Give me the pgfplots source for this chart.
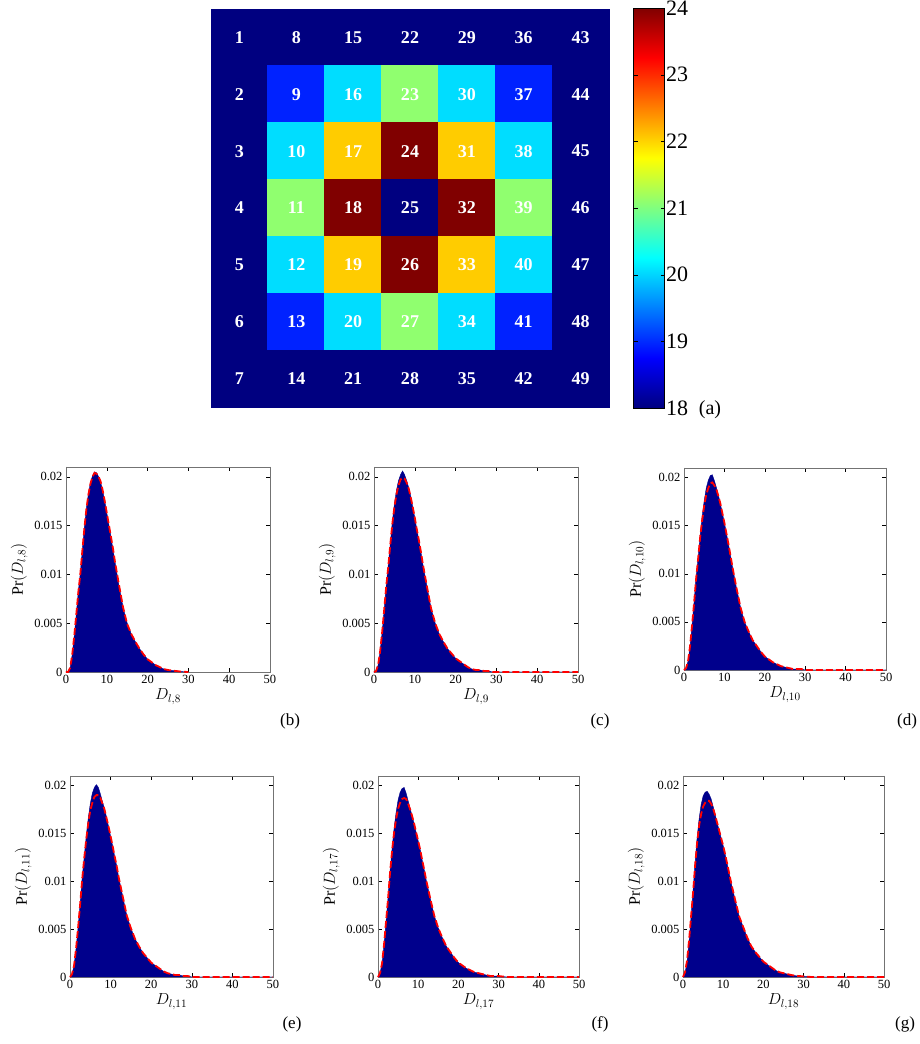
\RequirePackage{fix-cm}
\documentclass[border=0pt]{standalone}
\usepackage{pgfplots}
\pgfplotsset{compat=1.18}
\usepackage{pgfplotstable}
\usepackage{fontspec}
\setmainfont{Liberation Serif}

\definecolor{hist}{RGB}{0,0,140}
\definecolor{fitred}{RGB}{255,0,0}

% heat map: column x, row y (top = 0), value v, cell number n
\pgfplotstableread{
x y v n
0 0 18 1
1 0 18 8
2 0 18 15
3 0 18 22
4 0 18 29
5 0 18 36
6 0 18 43
0 1 18 2
1 1 18.95 9
2 1 20.05 16
3 1 21.1 23
4 1 20.05 30
5 1 18.95 37
6 1 18 44
0 2 18 3
1 2 20.05 10
2 2 22.05 17
3 2 24 24
4 2 22.05 31
5 2 20.05 38
6 2 18 45
0 3 18 4
1 3 21.1 11
2 3 24 18
3 3 18 25
4 3 24 32
5 3 21.1 39
6 3 18 46
0 4 18 5
1 4 20.05 12
2 4 22.05 19
3 4 24 26
4 4 22.05 33
5 4 20.05 40
6 4 18 47
0 5 18 6
1 5 18.95 13
2 5 20.05 20
3 5 21.1 27
4 5 20.05 34
5 5 18.95 41
6 5 18 48
0 6 18 7
1 6 18 14
2 6 18 21
3 6 18 28
4 6 18 35
5 6 18 42
6 6 18 49
}\heat

% histograms: x, histogram h, fitted curve f
\pgfplotstableread{
x h f
0 0 0
0.5 0 0
1 0.0004 0.0004
1.5 0.0017 0.0017
2 0.0036 0.0036
2.5 0.0058 0.0058
3 0.0082 0.0081
3.5 0.0101 0.0100
4 0.0125 0.0124
4.5 0.0148 0.0147
5 0.0168 0.0167
5.5 0.0183 0.0182
6 0.0194 0.0193
6.5 0.0201 0.0200
7 0.0205 0.0204
7.5 0.0204 0.0203
8 0.0200 0.0200
8.5 0.0194 0.0195
9 0.0186 0.0186
9.5 0.0175 0.0175
10 0.0163 0.0163
10.5 0.0151 0.0151
11 0.0139 0.0139
11.5 0.0126 0.0127
12 0.0113 0.0113
13 0.0088 0.0089
14 0.0066 0.0066
15 0.0050 0.0049
16 0.0039 0.0039
17 0.0031 0.0031
18 0.0024 0.0024
19 0.0018 0.0018
20 0.0013 0.0013
21 0.0010 0.0010
22 0.0007 0.0007
23 0.0005 0.0005
24 0.0003 0.0003
25 0.0002 0.0002
26 0.00015 0.00015
27 0.0001 0.0001
28 0.00005 0.00005
29 0.00002 0.00002
30 0 0
}\tb

\pgfplotstableread{
x h f
0 0 0
0.5 0.0001 0.0001
1 0.0007 0.0007
1.5 0.0021 0.0021
2 0.0041 0.0041
2.5 0.0064 0.0064
3 0.0089 0.0088
3.5 0.0110 0.0108
4 0.0132 0.0131
4.5 0.0154 0.0152
5 0.0172 0.0169
5.5 0.0186 0.0182
6 0.0196 0.0191
6.5 0.0202 0.0197
7 0.0206 0.0199
7.5 0.0202 0.0198
8 0.0196 0.0194
8.5 0.0189 0.0188
9 0.0180 0.0179
9.5 0.0169 0.0169
10 0.0158 0.0158
10.5 0.0146 0.0146
11 0.0135 0.0135
11.5 0.0123 0.0123
12 0.0110 0.0110
13 0.0087 0.0087
14 0.0065 0.0065
15 0.0050 0.0050
16 0.0039 0.0039
17 0.0031 0.0031
18 0.0024 0.0024
19 0.0019 0.0019
20 0.0014 0.0014
21 0.0011 0.0011
22 0.0008 0.0008
23 0.0005 0.0005
24 0.0003 0.0003
25 0.0002 0.0002
26 0.0002 0.0002
27 0.0001 0.0001
28 0.0001 0.0001
29 0 0
30 0 0
50 0 0
}\tc

\pgfplotstableread{
x h f
0 0 0
0.5 0.0002 0.0002
1 0.0009 0.0009
1.5 0.0025 0.0025
2 0.0047 0.0047
2.5 0.0071 0.0070
3 0.0097 0.0095
3.5 0.0117 0.0116
4 0.0140 0.0138
4.5 0.0160 0.0156
5 0.0176 0.0171
5.5 0.0189 0.0182
6 0.0197 0.0189
6.5 0.0202 0.0194
7 0.0203 0.0195
7.5 0.0197 0.0192
8 0.0190 0.0188
8.5 0.0182 0.0181
9 0.0173 0.0173
9.5 0.0163 0.0163
10 0.0153 0.0153
10.5 0.0142 0.0142
11 0.0131 0.0131
11.5 0.0119 0.0119
12 0.0107 0.0107
13 0.0085 0.0085
14 0.0065 0.0065
15 0.0050 0.0050
16 0.0040 0.0040
17 0.0031 0.0031
18 0.0025 0.0025
19 0.0019 0.0019
20 0.0014 0.0014
21 0.0011 0.0011
22 0.0008 0.0008
23 0.0006 0.0006
24 0.0004 0.0004
25 0.0003 0.0003
26 0.0002 0.0002
27 0.0001 0.0001
28 0.0001 0.0001
29 0.0001 0.0001
30 0 0
50 0 0
}\td

\pgfplotstableread{
x h f
0 0 0
0.5 0.0003 0.0003
1 0.0012 0.0012
1.5 0.0030 0.0030
2 0.0052 0.0052
2.5 0.0077 0.0076
3 0.0104 0.0102
3.5 0.0125 0.0124
4 0.0147 0.0144
4.5 0.0166 0.0161
5 0.0181 0.0174
5.5 0.0192 0.0182
6 0.0198 0.0188
6.5 0.0201 0.0190
7 0.0198 0.0190
7.5 0.0191 0.0187
8 0.0183 0.0181
8.5 0.0176 0.0175
9 0.0167 0.0166
9.5 0.0157 0.0157
10 0.0147 0.0147
10.5 0.0137 0.0137
11 0.0126 0.0126
11.5 0.0116 0.0116
12 0.0104 0.0104
13 0.0084 0.0084
14 0.0064 0.0064
15 0.0051 0.0051
16 0.0040 0.0040
17 0.0032 0.0032
18 0.0025 0.0025
19 0.0020 0.0020
20 0.0015 0.0015
21 0.0012 0.0012
22 0.0009 0.0009
23 0.0006 0.0006
24 0.0004 0.0004
25 0.0003 0.0003
26 0.0002 0.0002
27 0.0002 0.0002
28 0.0001 0.0001
29 0.0001 0.0001
30 0 0
50 0 0
}\te

\pgfplotstableread{
x h f
0 0 0
0.5 0.0004 0.0004
1 0.0014 0.0014
1.5 0.0034 0.0034
2 0.0058 0.0058
2.5 0.0083 0.0082
3 0.0111 0.0109
3.5 0.0134 0.0132
4 0.0155 0.0151
4.5 0.0172 0.0165
5 0.0185 0.0176
5.5 0.0193 0.0182
6 0.0197 0.0186
6.5 0.0198 0.0187
7 0.0192 0.0186
7.5 0.0184 0.0181
8 0.0176 0.0175
8.5 0.0168 0.0168
9 0.0160 0.0160
9.5 0.0151 0.0151
10 0.0142 0.0142
10.5 0.0133 0.0133
11 0.0122 0.0122
11.5 0.0112 0.0112
12 0.0101 0.0101
13 0.0082 0.0082
14 0.0064 0.0064
15 0.0051 0.0051
16 0.0041 0.0041
17 0.0032 0.0032
18 0.0026 0.0026
19 0.0020 0.0020
20 0.0015 0.0015
21 0.0012 0.0012
22 0.0009 0.0009
23 0.0007 0.0007
24 0.0005 0.0005
25 0.0004 0.0004
26 0.0003 0.0003
27 0.0002 0.0002
28 0.0001 0.0001
29 0.0001 0.0001
30 0.0001 0.0001
32 0 0
50 0 0
}\tf

\pgfplotstableread{
x h f
0 0 0
0.5 0.0004 0.0005
1 0.0016 0.0017
1.5 0.0037 0.0038
2 0.0063 0.0063
2.5 0.0090 0.0088
3 0.0119 0.0116
3.5 0.0145 0.0140
4 0.0165 0.0158
4.5 0.0180 0.0170
5 0.0189 0.0178
5.5 0.0193 0.0182
6 0.0194 0.0184
6.5 0.0191 0.0184
7 0.0186 0.0181
7.5 0.0178 0.0176
8 0.0170 0.0169
8.5 0.0161 0.0161
9 0.0153 0.0153
9.5 0.0145 0.0145
10 0.0137 0.0137
10.5 0.0128 0.0128
11 0.0118 0.0118
11.5 0.0108 0.0108
12 0.0098 0.0098
13 0.0080 0.0080
14 0.0063 0.0063
15 0.0052 0.0052
16 0.0041 0.0041
17 0.0032 0.0032
18 0.0026 0.0026
19 0.0021 0.0021
20 0.0016 0.0016
21 0.0013 0.0013
22 0.0010 0.0010
23 0.0007 0.0007
24 0.0005 0.0005
25 0.0004 0.0004
26 0.0003 0.0003
27 0.0002 0.0002
28 0.00013 0.00013
29 0.0001 0.0001
30 0.00006 0.00006
32 0 0
50 0 0
}\tg

\pgfplotsset{
  histax/.style={
    scale only axis, anchor=south west,
    xmin=0, xmax=50, ymin=0, ymax=0.021,
    xtick={0,10,...,50},
    ytick={0,0.005,0.01,0.015,0.02},
    yticklabels={0,0.005,0.01,0.015,0.02},
    scaled y ticks=false,
    tick align=inside, major tick length=4pt,
    tick style={black, line width=0.5pt},
    axis line style={black!55, line width=0.8pt},
    ticklabel style={font=\fontsize{12.5}{13}\selectfont},
    /pgf/number format/assume math mode=true,
    label style={font=\fontsize{16}{16}\selectfont},
    xlabel style={yshift=2pt},
    clip=false,
  },
  histfill/.style={fill=hist, draw=hist, line width=0.4pt},
  fitline/.style={fitred, line width=1.8pt, dash pattern=on 7pt off 3pt},
}

\begin{document}
\begin{tikzpicture}
\path[use as bounding box] (0pt,0pt) rectangle (920pt,1044pt);

% (a) heat map with colour bar
\begin{axis}[
  at={(211pt,637pt)}, anchor=south west,
  scale only axis, width=398pt, height=398pt,
  xmin=-0.5, xmax=6.5, ymin=-0.5, ymax=6.5, y dir=reverse,
  xtick=\empty, ytick=\empty, axis line style={draw=none},
  colormap/jet, point meta min=18, point meta max=24,
  colorbar, colorbar/width=31pt,
  colorbar style={
    at={(parent axis.south east)}, anchor=south west,
    xshift=16pt, yshift=-1pt,
    scale only axis, height=400pt,
    ytick={18,...,24}, tick align=inside,
    ytick pos=both, yticklabel pos=right,
    major tick length=4pt, tick style={black},
    axis line style={draw=black, line width=0.6pt},
    yticklabel style={font=\fontsize{22}{22}\selectfont, inner sep=1.5pt},
    /pgf/number format/assume math mode=true,
  },
]
\addplot[scatter, only marks, mark=square*, mark size=28.6pt,
  scatter/use mapped color={draw=mapped color, fill=mapped color},
  point meta=explicit]
  table[x=x, y=y, meta=v] {\heat};
\addplot[draw=none, mark=none, nodes near coords,
  point meta=explicit symbolic,
  nodes near coords style={anchor=center, text=white,
    font=\bfseries\fontsize{18}{18}\selectfont}]
  table[x=x, y=y, meta=n] {\heat};
\end{axis}

% (b)
\begin{axis}[histax, at={(66pt,372pt)}, width=204pt, height=205pt,
  xlabel={$D_{l,8}$}, ylabel={$\mathrm{Pr}(D_{l,8})$}]
\addplot[histfill] table[x=x, y=h] {\tb} \closedcycle;
\addplot[fitline] table[x=x, y=f] {\tb};
\end{axis}

% (c)
\begin{axis}[histax, at={(374pt,372pt)}, width=204pt, height=205pt,
  xlabel={$D_{l,9}$}, ylabel={$\mathrm{Pr}(D_{l,9})$}]
\addplot[histfill] table[x=x, y=h] {\tc} \closedcycle;
\addplot[fitline] table[x=x, y=f] {\tc};
\end{axis}

% (d)
\begin{axis}[histax, at={(684pt,374pt)}, width=202pt, height=202pt,
  xlabel={$D_{l,10}$}, ylabel={$\mathrm{Pr}(D_{l,10})$}]
\addplot[histfill] table[x=x, y=h] {\td} \closedcycle;
\addplot[fitline] table[x=x, y=f] {\td};
\end{axis}

% (e)
\begin{axis}[histax, at={(70pt,67pt)}, width=203pt, height=201pt,
  xlabel={$D_{l,11}$}, ylabel={$\mathrm{Pr}(D_{l,11})$}]
\addplot[histfill] table[x=x, y=h] {\te} \closedcycle;
\addplot[fitline] table[x=x, y=f] {\te};
\end{axis}

% (f)
\begin{axis}[histax, at={(378pt,67pt)}, width=201pt, height=201pt,
  xlabel={$D_{l,17}$}, ylabel={$\mathrm{Pr}(D_{l,17})$}]
\addplot[histfill] table[x=x, y=h] {\tf} \closedcycle;
\addplot[fitline] table[x=x, y=f] {\tf};
\end{axis}

% (g)
\begin{axis}[histax, at={(683pt,67pt)}, width=201pt, height=201pt,
  xlabel={$D_{l,18}$}, ylabel={$\mathrm{Pr}(D_{l,18})$}]
\addplot[histfill] table[x=x, y=h] {\tg} \closedcycle;
\addplot[fitline] table[x=x, y=f] {\tg};
\end{axis}

\begin{scope}[every node/.style={font=\fontsize{17}{17}\selectfont}]
\node[font=\fontsize{20}{20}\selectfont] at (710pt,634pt) {(a)};
\node at (290pt,323pt) {(b)};
\node at (600pt,323pt) {(c)};
\node at (907pt,323pt) {(d)};
\node at (292pt,20pt) {(e)};
\node at (600pt,20pt) {(f)};
\node at (905pt,20pt) {(g)};
\end{scope}
\end{tikzpicture}
\end{document}
